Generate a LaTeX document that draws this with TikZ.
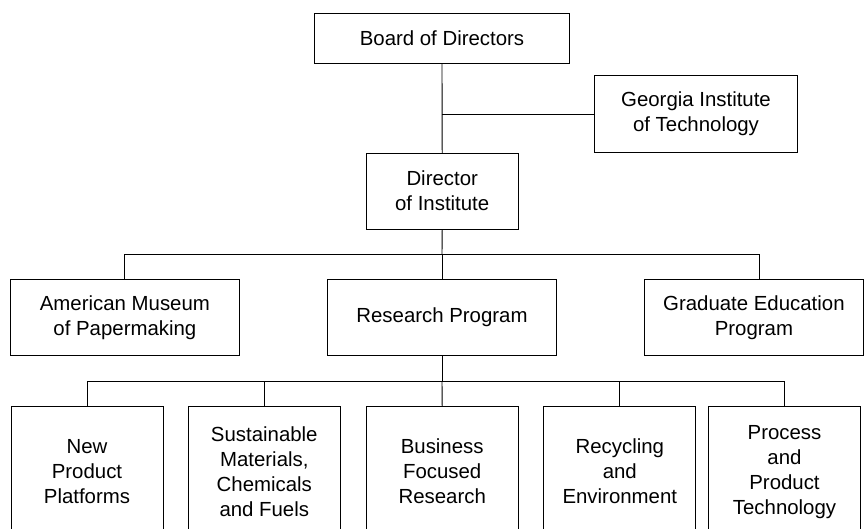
\documentclass[tikz,border=0pt]{standalone}
\usepackage{fontspec}
\setmainfont{Liberation Sans}
\begin{document}
\begin{tikzpicture}[x=1pt,y=-1pt,
  box/.style={draw=black,line width=0.9pt,fill=white,inner sep=0pt,align=center,
    font=\fontsize{20.4}{25}\selectfont},
  conn/.style={draw=black,line width=0.9pt}]
\useasboundingbox (0,0) rectangle (864,529);
\clip (0,0) rectangle (864,529);
\fill[white] (0,0) rectangle (864,529);
% top
\node[box,minimum width=254.6pt,minimum height=50pt] (board) at (442,38.7) {Board of Directors};
\node[box,minimum width=203.4pt,minimum height=76.6pt] (georgia) at (696,114) {Georgia Institute\\of Technology};
\node[box,minimum width=152.3pt,minimum height=75.7pt] (director) at (442.2,191.2) {Director\\of Institute};
% middle
\node[box,minimum width=228.3pt,minimum height=76pt] (american) at (124.9,317.7) {American Museum\\of Papermaking};
\node[box,minimum width=228.6pt,minimum height=76pt] (research) at (442,317.7) {Research Program};
\node[box,minimum width=218.3pt,minimum height=76pt] (graduate) at (753.9,317.7) {Graduate Education\\Program};
% bottom
\node[box,minimum width=152pt,minimum height=130pt] (newp) at (87,471.7) {New\\Product\\Platforms};
\node[box,minimum width=152pt,minimum height=130pt] (sust) at (264.3,471.7) {Sustainable\\Materials,\\Chemicals\\and Fuels};
\node[box,minimum width=152pt,minimum height=130pt] (busi) at (442.2,471.7) {Business\\Focused\\Research};
\node[box,minimum width=152pt,minimum height=130pt] (recy) at (619.8,471.7) {Recycling\\and\\Environment};
\node[box,minimum width=152pt,minimum height=130pt] (proc) at (784.5,471.7) {Process\\and\\Product\\Technology};
% connector points
\coordinate (gj) at (442,114);
\coordinate (mid) at (442,254.5);
\coordinate (midL) at (124.9,254.5);
\coordinate (midR) at (759.3,254.5);
\coordinate (bot) at (442,381);
\coordinate (botL) at (87,381);
\coordinate (botR) at (784.5,381);
% connectors
\draw[conn] (board.south) -- (director.north);
\draw[conn] (gj) -- (georgia.west);
\draw[conn] (director.south) -- (mid);
\draw[conn] (american.north) -- (midL) -- (midR) -- (midR |- graduate.north);
\draw[conn] (mid) -- (research.north);
\draw[conn] (research.south) -- (bot);
\draw[conn] (newp.north) -- (botL) -- (botR) -- (proc.north);
\draw[conn] (sust.north) -- (sust.north |- bot);
\draw[conn] (bot) -- (busi.north);
\draw[conn] (recy.north) -- (recy.north |- bot);
\end{tikzpicture}
\end{document}
